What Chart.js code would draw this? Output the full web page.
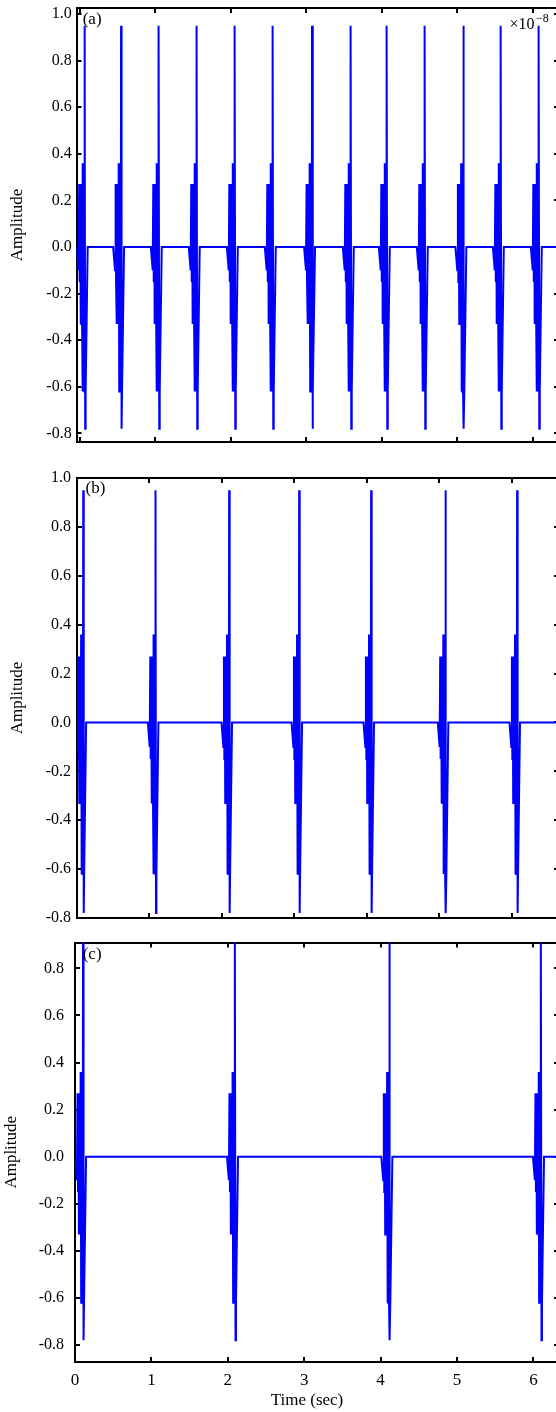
<!DOCTYPE html>
<html>
<head>
<meta charset="utf-8">
<script src="https://cdn.jsdelivr.net/npm/chart.js@4.4.1/dist/chart.umd.min.js"></script>
<style>
html,body{margin:0;padding:0;overflow:hidden;background:#fff;width:556px;height:1412px;position:relative;}
canvas{position:absolute;left:0;}
</style>
</head>
<body>
<canvas id="ca" style="top:0px"></canvas>
<canvas id="cb" style="top:470px"></canvas>
<canvas id="cc" style="top:935px"></canvas>
<script>
// ---------- data ----------
const xTicks = [0, 1, 2, 3, 4, 5, 6];
const yTicksAB = [-0.8, -0.6, -0.4, -0.2, 0.0, 0.2, 0.4, 0.6, 0.8, 1.0];
const yTicksC = [-0.8, -0.6, -0.4, -0.2, 0.0, 0.2, 0.4, 0.6, 0.8];

// shape of one burst (time offset from the big spike, in s) and its amplitudes
const burstOffsets = [-0.105, -0.080, -0.072, -0.066, -0.060, -0.054, -0.049, -0.044, -0.039, -0.034, -0.029, -0.024, -0.019, -0.014, -0.009, -0.004, 0.000, 0.007, 0.013, 0.040];
const burstValues  = [ 0.00,  -0.10,   0.27,  -0.15,   0.27,  -0.33,   0.13,  -0.33,   0.27,  -0.33,   0.36,  -0.62,   0.36,  -0.62,   0.36,  -0.62,  0.95, -0.78, -0.62,  0.00];

// times of the big spikes in each panel (s)
const spikeTimesA = [0.068, 0.550, 1.049, 1.552, 2.056, 2.559, 3.079, 3.592, 4.069, 4.572, 5.083, 5.579, 6.082];
const spikeTimesB = [0.086, 1.083, 2.099, 3.065, 4.058, 5.083, 6.072];
const spikeTimesC = [0.105, 2.094, 4.114, 6.099];

const panelLabels = ['(a)', '(b)', '(c)'];
const xTitle = 'Time (sec)';
const yTitle = 'Amplitude';
const scaleBase = '\u00d710';
const scaleExp = '\u22128';

// ---------- helpers ----------
function buildSeries(spikes, xmin, xmax) {
  const pts = [{x: xmin, y: 0}];
  spikes.forEach(ts => {
    burstOffsets.forEach((dt, i) => {
      const x = ts + dt;
      if (x >= xmin && x <= xmax) pts.push({x: x, y: burstValues[i]});
    });
  });
  pts.push({x: xmax, y: 0});
  return pts;
}

const FONT = 'Liberation Serif';
const textPlugin = {
  id: 'texts',
  afterDraw(chart, args, opts) {
    const ctx = chart.ctx;
    (opts.items || []).forEach(it => {
      ctx.save();
      ctx.font = it.font;
      ctx.fillStyle = '#000';
      ctx.textAlign = it.align || 'left';
      ctx.textBaseline = it.baseline || 'middle';
      ctx.fillText(it.text, it.x, it.y);
      ctx.restore();
    });
  }
};

function tickSetter(vals) {
  return s => { s.ticks = vals.map(v => ({value: v})); };
}
function zeroPad(s) { s.paddingTop = 0; s.paddingBottom = 0; s.paddingLeft = 0; s.paddingRight = 0; }

const gridOpt = {drawOnChartArea: false, drawTicks: true, tickLength: -5, color: '#000', lineWidth: 2};
const borderOpt = {display: true, color: '#000', width: 2};

function makeChart(id, cfg) {
  const canvas = document.getElementById(id);
  const W = 600;
  canvas.width = W; canvas.height = cfg.H;
  canvas.style.width = W + 'px'; canvas.style.height = cfg.H + 'px';
  const data = buildSeries(cfg.spikes, cfg.xmin, cfg.xmax);
  return new Chart(canvas, {
    type: 'line',
    data: {
      datasets: [{
        data: data,
        xAxisID: 'x', yAxisID: 'y',
        borderColor: '#0000ff',
        borderWidth: 2,
        pointRadius: 0,
        fill: false,
        tension: 0
      }]
    },
    options: {
      responsive: false,
      animation: false,
      devicePixelRatio: 1,
      events: [],
      layout: {autoPadding: false, padding: {left: 0, top: cfg.top, right: W - cfg.right, bottom: 0}},
      plugins: {
        legend: {display: false},
        tooltip: {enabled: false},
        texts: {items: cfg.items}
      },
      scales: {
        x: {
          type: 'linear', position: 'bottom', min: cfg.xmin, max: cfg.xmax,
          afterBuildTicks: tickSetter(xTicks),
          afterFit: s => { s.height = cfg.H - cfg.bottom; zeroPad(s); },
          ticks: {display: cfg.showX, padding: cfg.xPad, color: '#000', font: {family: FONT, size: 17}, autoSkip: false, maxRotation: 0, callback: v => String(v)},
          grid: gridOpt, border: borderOpt
        },
        x2: {
          type: 'linear', position: 'top', min: cfg.xmin, max: cfg.xmax,
          afterBuildTicks: tickSetter(xTicks),
          afterFit: s => { s.height = 0; zeroPad(s); },
          ticks: {display: false},
          grid: gridOpt, border: borderOpt
        },
        y: {
          type: 'linear', position: 'left', min: cfg.ymin, max: cfg.ymax,
          afterBuildTicks: tickSetter(cfg.yTicks),
          afterFit: s => { s.width = cfg.left; zeroPad(s); },
          ticks: {padding: cfg.yPad, color: '#000', font: {family: FONT, size: 16}, autoSkip: false, callback: v => v.toFixed(1)},
          grid: gridOpt, border: borderOpt,
          title: {display: true, text: yTitle, color: '#000', font: {family: FONT, size: 17}, padding: {top: cfg.titlePad, bottom: 0}}
        },
        y2: {
          type: 'linear', position: 'right', min: cfg.ymin, max: cfg.ymax,
          afterBuildTicks: tickSetter(cfg.yTicks),
          afterFit: s => { s.width = 0; zeroPad(s); },
          ticks: {display: false},
          grid: gridOpt, border: borderOpt
        }
      }
    },
    plugins: [textPlugin]
  });
}

makeChart('ca', {
  H: 460, left: 76.5, top: 8, right: 559, bottom: 442,
  xmin: -0.04, xmax: 6.35, ymin: -0.837, ymax: 1.026,
  yTicks: yTicksAB, spikes: spikeTimesA, showX: false, xPad: 10,
  yPad: 9.8, titlePad: 7.8,
  items: [
    {text: panelLabels[0], x: 82.7, y: 19.3, font: '17px "Liberation Serif"'},
    {text: scaleBase, x: 509.5, y: 29, font: '16px "Liberation Serif"', baseline: 'alphabetic'},
    {text: scaleExp, x: 536, y: 21.5, font: '12px "Liberation Serif"', baseline: 'alphabetic'}
  ]
});

makeChart('cb', {
  H: 460, left: 77, top: 8, right: 559, bottom: 448,
  xmin: 0, xmax: 6.65, ymin: -0.8, ymax: 1.0,
  yTicks: yTicksAB, spikes: spikeTimesB, showX: false, xPad: 10,
  yPad: 11, titlePad: 7.8,
  items: [
    {text: panelLabels[1], x: 85.5, y: 19, font: '17px "Liberation Serif"'}
  ]
});

makeChart('cc', {
  H: 477, left: 75, top: 7.5, right: 559, bottom: 427,
  xmin: 0, xmax: 6.335, ymin: -0.872, ymax: 0.91,
  yTicks: yTicksC, spikes: spikeTimesC, showX: true, xPad: 13.2,
  yPad: 16, titlePad: 1.8,
  items: [
    {text: panelLabels[2], x: 82.7, y: 20, font: '17px "Liberation Serif"'},
    {text: xTitle, x: 307, y: 466, font: '17px "Liberation Serif"', align: 'center'}
  ]
});
</script>
</body>
</html>
